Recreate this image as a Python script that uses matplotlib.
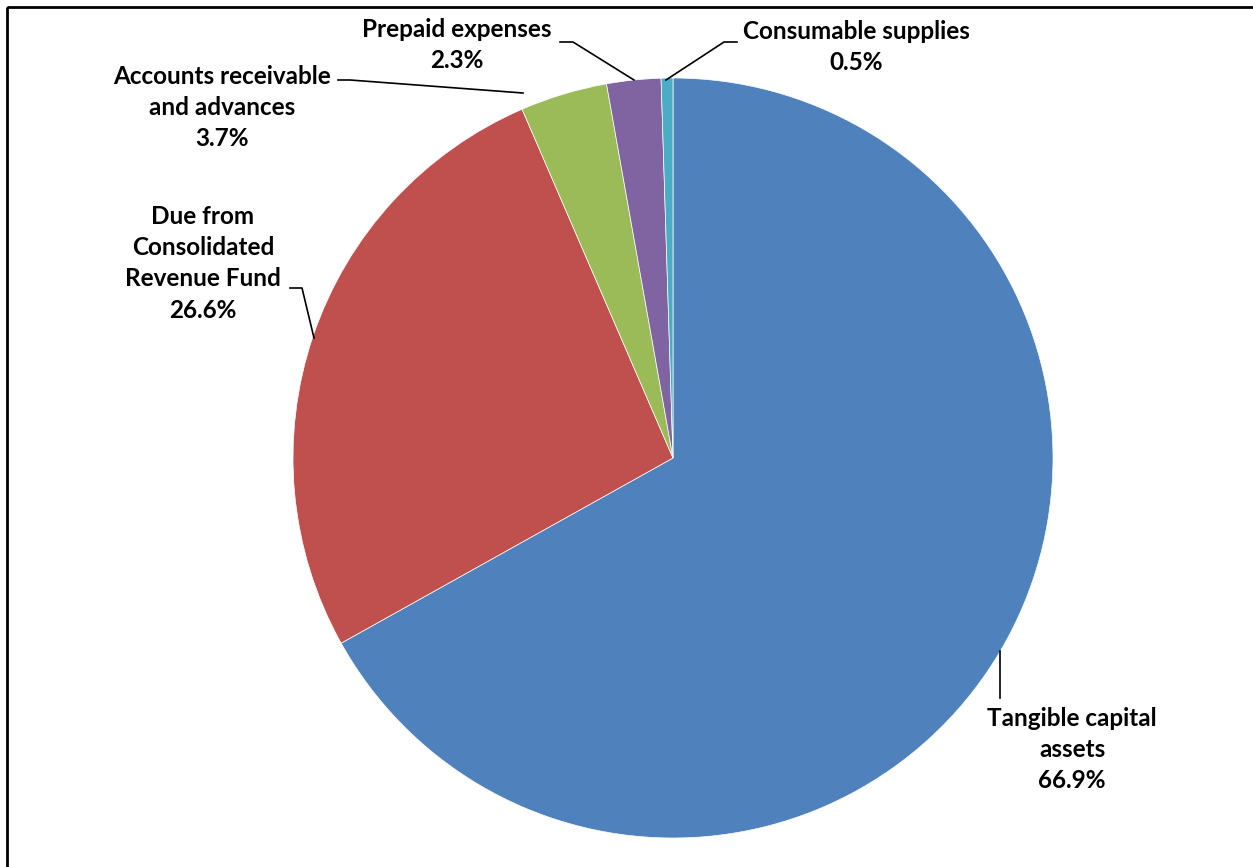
import numpy as np
import matplotlib.pyplot as plt
from matplotlib.patches import Rectangle

labels = ['Tangible capital\nassets', 'Due from\nConsolidated\nRevenue Fund',
          'Accounts receivable\nand advances', 'Prepaid expenses', 'Consumable supplies']
shares = [66.9, 26.6, 3.7, 2.3, 0.5]
colors = ['#4F81BD', '#C0504D', '#9BBB59', '#8064A2', '#4BACC6']

W, H = 1253, 867
fig = plt.figure(figsize=(W / 100, H / 100), dpi=100)
ax = fig.add_axes([0, 0, 1, 1])

def py(y):
    # pixel row from top -> data y
    return H - y

cx, cy, r = 673, 458, 380
ax.pie(shares, colors=colors, startangle=90, counterclock=False,
       center=(cx, py(cy)), radius=r, frame=True,
       wedgeprops=dict(linewidth=0.5, edgecolor='white'))
ax.set_xlim(0, W)
ax.set_ylim(0, H)
ax.set_aspect('equal')
ax.axis('off')

# frame around the chart area
ax.add_patch(Rectangle((7, py(7)), 1300, -900, fill=False, lw=2, ec='black', clip_on=False))

# label text positions (center x, top y) and leader lines in pixels
text_pos = [(1072, 707), (203, 205), (222, 65), (457, 18), (856, 20)]
leaders = [
    [(1000, 651), (1000, 698)],
    [(290, 288), (302, 288), (314, 338)],
    [(338, 80), (350, 80), (523, 93)],
    [(560, 42), (573, 42), (634, 80)],
    [(737, 42), (724, 42), (666, 80)],
]

for lab, s, (tx, ty), pts in zip(labels, shares, text_pos, leaders):
    ax.text(tx, py(ty), f'{lab}\n{s:.1f}%', ha='center', va='top',
            fontsize=17.5, fontweight='bold', family='Lato', linespacing=1.43)
    xs = [p[0] for p in pts]
    ys = [py(p[1]) for p in pts]
    ax.plot(xs, ys, color='black', lw=1.2)

fig.savefig('out.png', dpi=100)
